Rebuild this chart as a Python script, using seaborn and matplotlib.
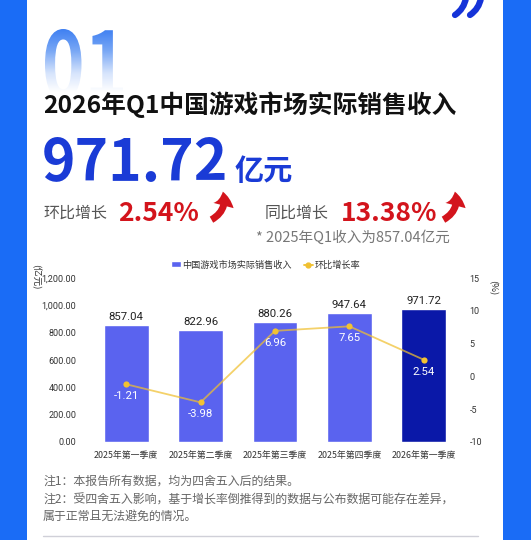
import numpy as np
import matplotlib
matplotlib.use("Agg")
import matplotlib.pyplot as plt
import seaborn as sns
import pandas as pd
from matplotlib.textpath import TextPath
from matplotlib.font_manager import FontProperties
from matplotlib.patches import PathPatch, FancyArrowPatch, Rectangle
from matplotlib.lines import Line2D
from matplotlib.path import Path
from matplotlib.transforms import Affine2D

# data
quarters = ["2025年第一季度", "2025年第二季度", "2025年第三季度", "2025年第四季度", "2026年第一季度"]
revenue = [857.04, 822.96, 880.26, 947.64, 971.72]
qoq_rate = [-1.21, -3.98, 6.96, 7.65, 2.54]
left_ticks = [0, 200, 400, 600, 800, 1000, 1200]
right_ticks = [-10, -5, 0, 5, 10, 15]

sns.set_theme(style="white")
plt.rcParams["font.family"] = ["Noto Sans CJK SC", "DejaVu Sans"]

W, H = 531, 540
fig = plt.figure(figsize=(W / 100, H / 100), dpi=100)
fig.patch.set_facecolor("#1a6cf6")

# pixel overlay axes (y measured from top via Y())
bg = fig.add_axes([0, 0, 1, 1], zorder=0)
bg.set_xlim(0, W)
bg.set_ylim(0, H)
bg.axis("off")
Y = lambda py: H - py

bg.add_patch(Rectangle((27, 0), 476, H, facecolor="white", edgecolor="none"))

# top-right quote mark
for x0 in (466, 481):
    p = Path([(x0, Y(-2)), (x0 - 2, Y(9)), (x0 - 11, Y(15))],
             [Path.MOVETO, Path.CURVE3, Path.CURVE3])
    bg.add_patch(PathPatch(p, facecolor="none", edgecolor="#1533d8", lw=4.5, capstyle="round"))

# big gradient "01"
fp_bold = FontProperties(family="Noto Sans CJK SC", weight="bold")
tp = TextPath((0, 0), "01", size=100, prop=fp_bold)
ext = tp.get_extents()
x0, x1, y0, y1 = 45, 123, Y(100), Y(29)
tr = Affine2D().translate(-ext.x0, -ext.y0).scale((x1 - x0) / ext.width, (y1 - y0) / ext.height).translate(x0, y0)
tp = tr.transform_path(tp)
patch = PathPatch(tp, facecolor="none", edgecolor="none")
bg.add_patch(patch)
grad = np.linspace(0, 1, 256).reshape(-1, 1)
cmap = matplotlib.colors.LinearSegmentedColormap.from_list(
    "g", [(0, "#3f80f2"), (0.35, "#7aa8f5"), (0.7, "#d6e4fc"), (1, "#ffffff")])
im = bg.imshow(grad, extent=(x0, x1, Y(92), Y(29)), cmap=cmap, aspect="auto", origin="upper", zorder=1)
im.set_clip_path(patch)
bg.add_patch(Rectangle((x0, Y(100)), x1 - x0, 8, facecolor="white", edgecolor="none", zorder=1.5))
bg.set_xlim(0, W)
bg.set_ylim(0, H)

# header texts
bg.text(43, Y(105), "2026年Q1中国游戏市场实际销售收入", fontsize=17.8, fontweight="bold",
        color="#111111", va="center", ha="left", zorder=3)
bg.text(42, Y(181), "971.72", fontsize=41, fontweight="bold", color="#1a3bd6",
        va="baseline", ha="left", zorder=3)
bg.text(235, Y(180), "亿元", fontsize=21, fontweight="bold", color="#1a3bd6",
        va="baseline", ha="left", zorder=3)

bg.text(43, Y(213), "环比增长", fontsize=11.5, color="#555555", va="center", ha="left")
bg.text(118, Y(221), "2.54%", fontsize=19, fontweight="bold", color="#d3141c", va="baseline", ha="left")
bg.text(265, Y(213), "同比增长", fontsize=11.5, color="#555555", va="center", ha="left")
bg.text(341, Y(221), "13.38%", fontsize=19, fontweight="bold", color="#d3141c", va="baseline", ha="left")
bg.text(256, Y(238), "* 2025年Q1收入为857.04亿元", fontsize=10.5, color="#777777", va="center", ha="left")

for ax0 in (209, 441):
    arr = FancyArrowPatch((ax0, Y(221)), (ax0 + 13, Y(189)), connectionstyle="arc3,rad=0.45",
                          arrowstyle="simple,head_width=15,head_length=10,tail_width=5",
                          color="#d3141c", mutation_scale=1, lw=0)
    bg.add_patch(arr)

# notes
notes = ["注1：本报告所有数据，均为四舍五入后的结果。",
         "注2：受四舍五入影响，基于增长率倒推得到的数据与公布数据可能存在差异，",
         "属于正常且无法避免的情况。"]
for txt, py in zip(notes, [481, 500, 516]):
    bg.text(43, Y(py), txt, fontsize=8.6, color="#666666", va="center", ha="left")
bg.plot([43, 478], [Y(536), Y(536)], color="#d0d0d8", lw=1)

# chart
ax = fig.add_axes([89 / W, 98.3 / H, 372 / W, 163.4 / H], zorder=2)
ax.patch.set_alpha(0)
df = pd.DataFrame({"quarter": quarters, "revenue": revenue, "rate": qoq_rate})
bar_colors = ["#5a63ef"] * 4 + ["#0a18a8"]
sns.barplot(data=df, x="quarter", y="revenue", hue="quarter", palette=bar_colors,
            legend=False, width=0.6, ax=ax, saturation=1)
ax.set_xlim(-0.5, 4.5)
ax.set_ylim(0, 1200)
ax.set_yticks(left_ticks)
ax.set_yticklabels([f"{v:,.2f}" for v in left_ticks])
ax.set_xlabel("")
ax.set_ylabel("")
ax.tick_params(axis="y", labelsize=6.5, pad=9, length=0, labelcolor="#333333")
ax.tick_params(axis="x", labelsize=6.4, pad=7, length=0, labelcolor="#333333")
for lab in ax.get_yticklabels():
    lab.set_fontfamily(["Roboto", "DejaVu Sans"])
for i, v in enumerate(revenue):
    ax.text(i, v + 58, f"{v:.2f}", ha="center", va="center", fontsize=8.2,
            color="#222222", family=["Roboto", "DejaVu Sans"])
sns.despine(ax=ax, left=True, bottom=True)

ax2 = ax.twinx()
ax2.set_ylim(-10, 15)
ax2.plot(range(len(qoq_rate)), qoq_rate, color="#f0c030", lw=1.3, alpha=0.72)
ax2.scatter(range(len(qoq_rate)), qoq_rate, color="#f2c232", s=20, zorder=3, linewidths=0)
for i, r in enumerate(qoq_rate):
    ax2.text(i, r - 1.85, f"{r:.2f}", ha="center", va="center", fontsize=8.2,
             color="white", family=["Roboto", "DejaVu Sans"])
ax2.set_yticks(right_ticks)
ax2.set_yticklabels([str(v) for v in right_ticks])
ax2.tick_params(axis="y", labelsize=6.5, pad=6, length=0, labelcolor="#333333")
for lab in ax2.get_yticklabels():
    lab.set_fontfamily(["Roboto", "DejaVu Sans"])
for s in ax2.spines.values():
    s.set_visible(False)
ax2.grid(False)
ax.grid(False)

# axis unit labels
bg.text(36, Y(277), "(亿元)", rotation=-90, fontsize=6.8, color="#333333", ha="center", va="center")
bg.text(492, Y(288), "(%)", rotation=-90, fontsize=6.8, color="#333333", ha="center", va="center")

# legend
handles = [Rectangle((0, 0), 1, 1, facecolor="#5a63ef"),
           Line2D([0], [0], color="#f0c030", lw=1.3, marker="o", markersize=3.5)]
labels = ["中国游戏市场实际销售收入", "环比增长率"]
ax.legend(handles, labels, loc="center", bbox_to_anchor=(266 / W, Y(265) / H),
          bbox_transform=fig.transFigure, ncol=2, frameon=False, fontsize=6.6,
          handlelength=1.0, handleheight=0.6, handletextpad=0.2, columnspacing=1.3,
          labelcolor="#333333")

fig.savefig("out.png", dpi=100)
